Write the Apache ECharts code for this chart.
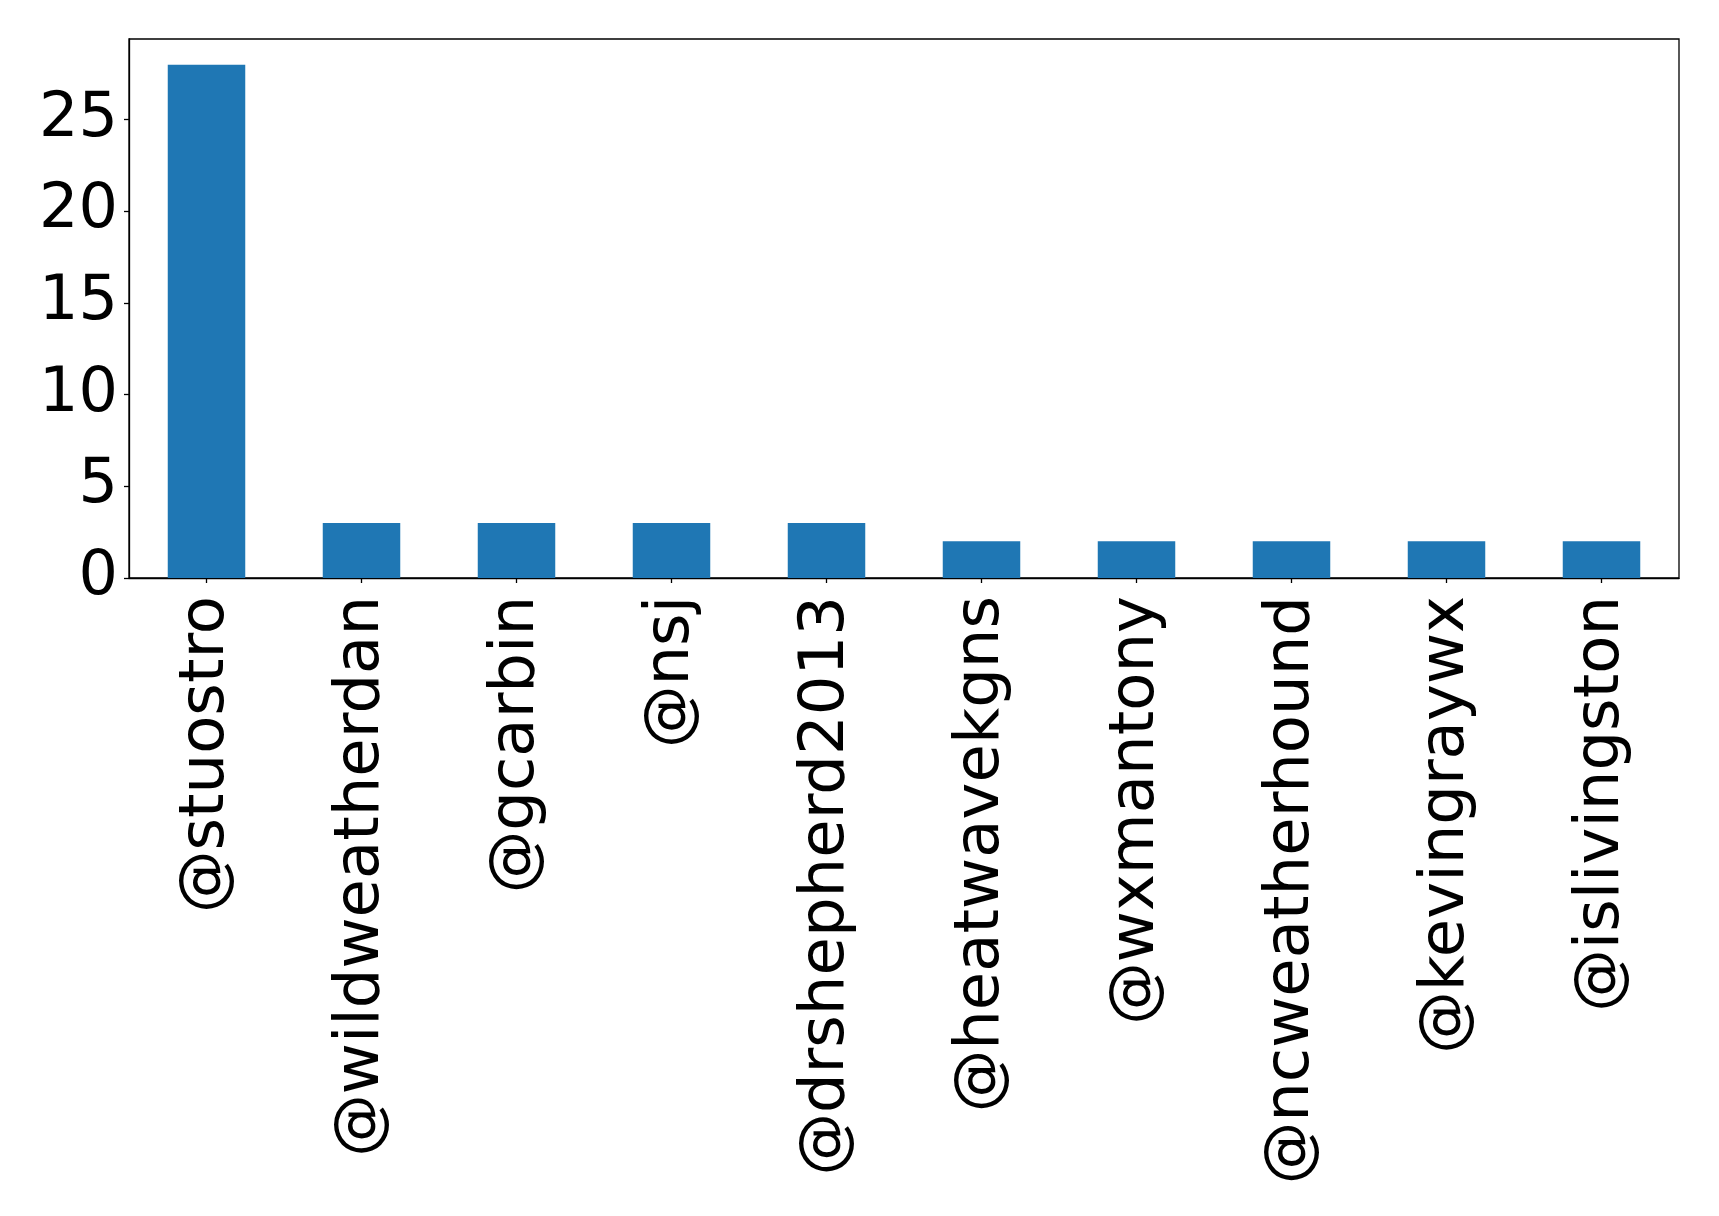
<!DOCTYPE html>
<html>
<head>
<meta charset="utf-8">
<script src="https://cdn.jsdelivr.net/npm/echarts@6/dist/echarts.min.js"></script>
<style>
html,body{margin:0;padding:0;background:#fff;}
#chart{width:1719px;height:1216px;}
</style>
</head>
<body>
<div id="chart"></div>
<script>
const categories = ['@stuostro','@wildweatherdan','@gcarbin','@nsj','@drshepherd2013','@heatwavekgns','@wxmantony','@ncweatherhound','@kevingraywx','@islivingston'];
const counts = [28, 3, 3, 3, 3, 2, 2, 2, 2, 2];
const yTicks = [0, 5, 10, 15, 20, 25];

const chart = echarts.init(document.getElementById('chart'), null, {renderer: 'canvas'});
const font = 'DejaVu Sans';
chart.setOption({
  animation: false,
  backgroundColor: '#ffffff',
  grid: {
    left: 129, right: 40, top: 39, bottom: 638,
    show: true, borderColor: '#000', borderWidth: 1.3, backgroundColor: 'transparent'
  },
  xAxis: {
    type: 'category',
    data: categories,
    boundaryGap: true,
    axisLine: {show: true, lineStyle: {color: '#000', width: 1.3}},
    axisTick: {show: true, alignWithLabel: true, length: 5, lineStyle: {color: '#000', width: 1.3}},
    axisLabel: {rotate: 90, margin: 18, fontFamily: font, fontSize: 62.5, color: '#000', interval: 0},
    splitLine: {show: false}
  },
  yAxis: {
    type: 'value',
    min: 0,
    max: 29.4,
    interval: 5,
    axisLine: {show: true, lineStyle: {color: '#000', width: 1.3}},
    axisTick: {show: true, length: 5, customValues: yTicks, lineStyle: {color: '#000', width: 1.3}},
    axisLabel: {
      margin: 11, fontFamily: font, fontSize: 62, color: '#000',
      customValues: yTicks,
      verticalAlign: 'middle',
      padding: [5, 0, 0, 0]
    },
    splitLine: {show: false}
  },
  series: [{
    type: 'bar',
    data: counts,
    barWidth: '50%',
    itemStyle: {color: '#1f77b4'}
  }]
});
</script>
</body>
</html>
